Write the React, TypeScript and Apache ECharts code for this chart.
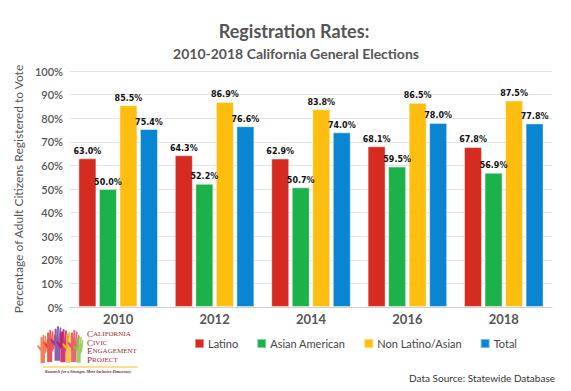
import React, { useEffect, useRef } from "react";
import * as echarts from "echarts";

const years = ["2010", "2012", "2014", "2016", "2018"];
const latino = [63.0, 64.3, 62.9, 68.1, 67.8];
const asianAmerican = [50.0, 52.2, 50.7, 59.5, 56.9];
const nonLatinoAsian = [85.5, 86.9, 83.8, 86.5, 87.5];
const total = [75.4, 76.6, 74.0, 78.0, 77.8];
const seriesNames = ["Latino", "Asian American", "Non Latino/Asian", "Total"];
const seriesColors = ["#D62B20", "#1DB14B", "#FDBE10", "#0A85D1"];
const yTicks = [0, 10, 20, 30, 40, 50, 60, 70, 80, 90, 100];

const handPath =
  "M8 40 L8 24 L2 18 L3 16 L8 19 L8 6 L9.5 5 L11 6 L11 16 L11.5 3 L13 2 L14.5 3 L14 16 L15.5 4 L17 3.5 L18 5 L17 17 L19 8 L20.5 8 L21 10 L19 24 L16 28 L16 40 Z";

let registered = false;

export default function App() {
  const ref = useRef<HTMLDivElement>(null);
  useEffect(() => {
    if (!ref.current) return;
    if (!registered) {
      echarts.graphic.registerShape("hand", echarts.graphic.extendPath(handPath, {}));
      registered = true;
    }
    const chart = echarts.init(ref.current, null, { renderer: "svg" });
    const data = [latino, asianAmerican, nonLatinoAsian, total];
    const hands = [
      { x: 36, y: 333, s: 0.75, c: "#F26A3D" },
      { x: 42, y: 328, s: 0.85, c: "#E53935" },
      { x: 49, y: 324, s: 0.92, c: "#7B3FA0" },
      { x: 55, y: 327, s: 0.88, c: "#C2185B" },
      { x: 61, y: 330, s: 0.82, c: "#F7B731" },
      { x: 66, y: 328, s: 0.85, c: "#E84A5F" },
      { x: 72, y: 334, s: 0.72, c: "#8BC34A" },
    ];
    chart.setOption({
      animation: false,
      backgroundColor: "#ffffff",
      grid: { left: 70, right: 19, top: 71, bottom: 84 },
      legend: {
        data: seriesNames,
        left: 189,
        top: 333,
        itemWidth: 9,
        itemHeight: 9,
        itemGap: 18,
        icon: "rect",
        textStyle: { fontFamily: "Lato", fontSize: 11, color: "#444", padding: [0, 0, 0, -1] },
      },
      xAxis: {
        type: "category",
        data: years,
        axisTick: { show: false },
        axisLine: { lineStyle: { color: "#cfcfcf", width: 1 } },
        axisLabel: { fontFamily: "Lato", fontWeight: "bold", fontSize: 13, color: "#555", margin: 5 },
      },
      yAxis: {
        type: "value",
        min: yTicks[0],
        max: yTicks[yTicks.length - 1],
        interval: 10,
        name: "Percentage of Adult Citizens Registered to Vote",
        nameLocation: "middle",
        nameGap: 42,
        nameTextStyle: { fontFamily: "Lato", fontSize: 12, color: "#555" },
        axisLabel: { formatter: "{value}%", fontFamily: "Lato", fontWeight: 600, fontSize: 11, color: "#555", margin: 7 },
        splitLine: { lineStyle: { color: "#e3e3e3", width: 1 } },
      },
      series: data.map((d, i) => ({
        name: seriesNames[i],
        type: "bar",
        data: d,
        barWidth: 18,
        barGap: "14%",
        itemStyle: { color: seriesColors[i], borderColor: "rgba(255,255,255,0.45)", borderWidth: 1 },
        label: {
          show: true,
          position: "top",
          distance: 3,
          formatter: (p: any) => p.value.toFixed(1) + "%",
          fontFamily: "DejaVu Sans",
          fontWeight: "bold",
          fontSize: 8,
          color: "#111",
        },
      })),
      graphic: [
        {
          type: "text",
          x: 294,
          y: 31,
          style: {
            text: "Registration Rates:",
            fontFamily: "Lato",
            fontWeight: "bold",
            fontSize: 18,
            fill: "#555",
            align: "center",
            verticalAlign: "middle",
          },
        },
        {
          type: "text",
          x: 296,
          y: 53,
          style: {
            text: "2010-2018 California General Elections",
            fontFamily: "Lato",
            fontWeight: "bold",
            fontSize: 14,
            fill: "#555",
            align: "center",
            verticalAlign: "middle",
          },
        },
        {
          type: "text",
          x: 555,
          y: 378,
          style: {
            text: "Data Source: Statewide Database",
            fontFamily: "Lato",
            fontSize: 10,
            fill: "#333",
            align: "right",
            verticalAlign: "middle",
          },
        },
        ...hands.map((h) => ({
          type: "hand",
          x: h.x,
          y: h.y,
          scaleX: h.s * 0.75,
          scaleY: h.s,
          style: { fill: h.c, opacity: 0.85 },
        })),
        ...["ALIFORNIA", "IVIC", "NGAGEMENT", "ROJECT"].map((w, i) => ({
          type: "text",
          x: 87,
          y: 334 + i * 8.5,
          style: {
            text: "{a|" + ["C", "C", "E", "P"][i] + "}{b|" + w + "}",
            rich: {
              a: { fontFamily: "Liberation Serif", fontSize: 9, fill: "#A31F34" },
              b: { fontFamily: "Liberation Serif", fontSize: 7, fill: "#A31F34" },
            },
            verticalAlign: "middle",
          },
        })),
        {
          type: "line",
          shape: { x1: 43, y1: 367, x2: 138, y2: 367 },
          style: { stroke: "#F5C518", lineWidth: 1 },
        },
        {
          type: "text",
          x: 45,
          y: 371,
          style: {
            text: "Research for a Stronger, More Inclusive Democracy",
            fontFamily: "Liberation Serif",
            fontStyle: "italic",
            fontWeight: "bold",
            fontSize: 4,
            fill: "#7A1828",
            verticalAlign: "middle",
          },
        },
      ],
    });
    return () => chart.dispose();
  }, []);
  return <div ref={ref} style={{ position: "absolute", left: 0, top: 0, width: 571, height: 391 }} />;
}
